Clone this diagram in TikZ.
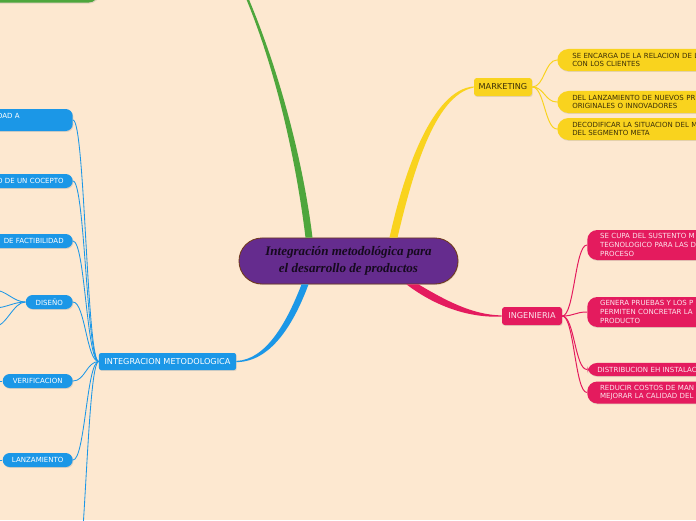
\documentclass[tikz,border=0pt]{standalone}
\usepackage{fontspec}
\setmainfont{DejaVu Sans}
\newfontfamily\rootfont{Liberation Serif}
\usetikzlibrary{calc,shadows}
\definecolor{paper}{RGB}{253,232,208}
\definecolor{rootpurple}{RGB}{101,44,142}
\definecolor{rootbrown}{RGB}{112,58,28}
\definecolor{rootink}{RGB}{22,10,30}
\definecolor{grn}{RGB}{78,166,60}
\definecolor{yel}{RGB}{249,211,30}
\definecolor{yelink}{RGB}{58,46,8}
\definecolor{igred}{RGB}{228,27,94}
\definecolor{imblue}{RGB}{27,151,231}

\begin{document}
\begin{tikzpicture}[x=0.025cm,y=-0.025cm,
sh/.style={drop shadow={shadow xshift=0.5pt,shadow yshift=-0.7pt,opacity=0.22}},
root/.style={sh,fill=rootpurple,draw=rootbrown,line width=0.6pt,rounded corners=0.575cm,minimum width=5.475cm,minimum height=1.15cm,align=center,text=rootink,font=\rootfont\bfseries\itshape\fontsize{9.3}{11.8}\selectfont},
mk/.style={sh,fill=yel,rounded corners=2pt,minimum width=1.45cm,minimum height=0.45cm,inner sep=0pt,text=yelink,font=\fontsize{5.8}{7}\selectfont},
mc/.style={sh,fill=yel,rounded corners=0.28cm,anchor=west,text width=5cm,align=left,inner xsep=0.375cm,inner ysep=0pt,minimum height=0.55cm,text=yelink,font=\fontsize{5}{6.2}\selectfont},
ig/.style={sh,fill=igred,rounded corners=2pt,minimum width=1.5cm,minimum height=0.45cm,inner sep=0pt,text=white!88!igred,font=\fontsize{5.8}{7}\selectfont},
ic/.style={sh,fill=igred,rounded corners=0.25cm,anchor=west,text width=4cm,align=left,inner xsep=0.32cm,inner ysep=0pt,minimum height=0.55cm,text=white!88!igred,font=\fontsize{5}{6.1}\selectfont},
im/.style={sh,fill=imblue,rounded corners=1.5pt,minimum width=3.425cm,minimum height=0.425cm,inner sep=0pt,text=white,font=\fontsize{5.8}{7}\selectfont},
bc/.style={sh,fill=imblue,rounded corners=0.175cm,anchor=east,minimum height=0.35cm,inner xsep=0.225cm,inner ysep=0pt,text=white,font=\fontsize{5}{6.1}\selectfont},
gc/.style={sh,fill=grn,rounded corners=0.3cm,anchor=south east,minimum width=4cm,minimum height=1cm},
yl/.style={draw=yel,line width=0.7pt},
rl/.style={draw=igred,line width=0.7pt},
bl/.style={draw=imblue,line width=0.6pt},
lkr/.style={out=0,in=180,distance=0.3cm},
lkl/.style={out=180,in=0,distance=0.3cm}]
\useasboundingbox (0,0) rectangle (696,520);
\fill[paper] (0,0) rectangle (696,520);
\clip (0,0) rectangle (696,520);

% centre
\node[root] (root) at (348.5,261) {Integración metodológica para\\el desarrollo de productos};

% green branch (off the top)
\coordinate (gtop) at (246,-4);
\node[gc] (g1) at (100,3) {};

% marketing
\node[mk] (mk) at (503,87) {MARKETING};
\node[mc] (m1) at (557,60) {SE ENCARGA DE LA RELACION DE L\\CON LOS CLIENTES};
\node[mc] (m2) at (557,102) {DEL LANZAMIENTO DE NUEVOS PR\\ORIGINALES O INNOVADORES};
\node[mc] (m3) at (557,129) {DECODIFICAR LA SITUACION DEL M\\DEL SEGMENTO META};

% ingenieria
\node[ig] (ig) at (532,316) {INGENIERIA};
\node[ic,minimum height=0.75cm] (i1) at (587,245) {SE CUPA DEL SUSTENTO M\\TEGNOLOGICO PARA LAS D\\PROCESO};
\node[ic,minimum height=0.75cm] (i2) at (587,312) {GENERA PRUEBAS Y LOS P\\PERMITEN CONCRETAR LA\\PRODUCTO};
\node[ic,minimum height=0.33cm,inner xsep=0.25cm] (i3) at (587,369.5) {DISTRIBUCION EH INSTALAC};
\node[ic] (i4) at (587,392.5) {REDUCIR COSTOS DE MAN\\MEJORAR LA CALIDAD DEL};

% integracion metodologica
\node[im] (im) at (167.5,361.5) {INTEGRACION METODOLOGICA};
\node[bc,text width=3cm,align=right,minimum height=0.55cm] (b1) at (73,120) {DAD A\rule{1.1cm}{0pt}\\\mbox{}};
\node[bc,text width=3cm,align=right] (b2) at (73,181) {O DE UN COCEPTO};
\node[bc,text width=3cm,align=right] (b3) at (73,241) {DE FACTIBILIDAD};
\node[bc,minimum width=1.175cm,inner xsep=0pt] (dis) at (73,302) {DISEÑO};
\node[bc,minimum width=1.75cm,inner xsep=0pt] (ver) at (73,381) {VERIFICACION};
\node[bc,minimum width=1.75cm,inner xsep=0pt] (lan) at (73,460) {LANZAMIENTO};
\coordinate (b7) at (73,600);
\coordinate (d1) at (-6,290);
\coordinate (d2) at (-6,308);
\coordinate (d3) at (-6,327);
\coordinate (v1) at (-6,381);
\coordinate (l1) at (-6,460);

% main branches
\fill[grn] ($(root.north)+(-43,0)$) .. controls (296,160) and (276,70) .. ($(gtop)+(-1,0)$) -- ($(gtop)+(1.5,0)$) .. controls (279,70) and (303,160) .. ($(root.north)+(-36,0)$) -- cycle;
\fill[yel] ($(root.north)+(41,0)$) .. controls (404,172) and (432,90) .. ($(mk.west)+(0,-0.6)$) -- ($(mk.west)+(0,0.6)$) .. controls (434,95) and (412,176) .. ($(root.north)+(49,0)$) -- cycle;
\fill[igred] ($(root.south)+(70,0)$) .. controls (445,300) and (472,315) .. ($(ig.west)+(0,-0.6)$) -- ($(ig.west)+(0,0.6)$) .. controls (468,318) and (435,306) .. ($(root.south)+(58,0)$) -- cycle;
\fill[imblue] ($(root.south)+(-47,0)$) .. controls (287,322) and (266,360) .. ($(im.east)+(0,-0.6)$) -- ($(im.east)+(0,0.6)$) .. controls (270,362) and (293,326) .. ($(root.south)+(-40,0)$) -- cycle;

% links
\foreach \c in {m1,m2,m3}
  \draw[yl] (mk.east) to[lkr] (\c.west);
\foreach \c in {i1,i2,i3,i4}
  \draw[rl] (ig.east) to[lkr] (\c.west);
\foreach \c in {b1,b2,b3,dis,ver,lan}
  \draw[bl] (im.west) to[lkl] (\c.east);
\draw[bl] (im.west) to[lkl] (b7);
\foreach \c in {d1,d2,d3}
  \draw[bl] (dis.west) to[lkl] (\c);
\draw[bl] (ver.west) -- (v1);
\draw[bl] (lan.west) -- (l1);
\end{tikzpicture}
\end{document}
